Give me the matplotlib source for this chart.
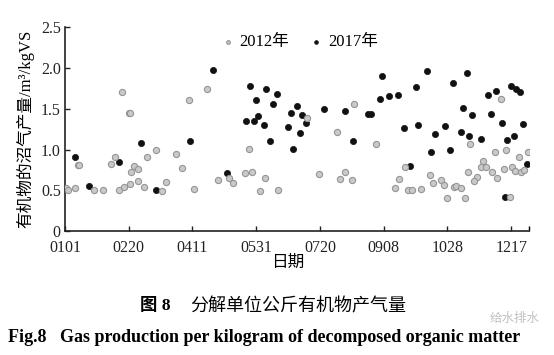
import matplotlib
matplotlib.use('Agg')
import matplotlib.pyplot as plt

plt.rcParams['font.family'] = ['Liberation Serif', 'Noto Sans CJK SC', 'DejaVu Sans']

# day of year (0 = 0101) and gas production
days_2012 = [1, 2, 8, 10, 11, 23, 30, 36, 39, 42, 46, 45, 50, 51, 51, 52, 54, 57, 57, 62, 64, 71, 76, 79, 87,
             92, 101, 97, 111, 120, 129, 132, 141, 147, 144, 153, 157, 167,
             190, 227, 213, 244, 199, 220, 216, 225, 267, 262, 259, 269,
             342, 318, 337, 346, 363, 356, 328, 326, 330, 335, 344, 351, 353, 358, 360, 316, 323, 321, 339,
             286, 295, 289, 297, 305, 307, 311, 272, 279, 300, 314, 349]
gas_2012 = [0.53, 0.51, 0.53, 0.81, 0.81, 0.51, 0.50, 0.82, 0.91, 0.51, 0.54, 1.70, 1.45, 1.44, 0.58, 0.73, 0.80, 0.76, 0.62, 0.54, 0.91, 0.99, 0.49, 0.60, 0.95,
            0.77, 0.52, 1.60, 1.74, 0.63, 0.65, 0.59, 0.71, 0.72, 1.01, 0.49, 0.65, 0.50,
            1.38, 1.56, 1.21, 1.07, 0.70, 0.73, 0.64, 0.63, 0.79, 0.64, 0.53, 0.51,
            1.62, 1.07, 0.97, 0.99, 0.97, 0.91, 0.86, 0.79, 0.79, 0.73, 0.76, 0.79, 0.74, 0.72, 0.75, 0.72, 0.66, 0.61, 0.65,
            0.69, 0.63, 0.59, 0.57, 0.54, 0.55, 0.53, 0.51, 0.52, 0.41, 0.41, 0.42]

days_2017 = [8, 19, 42, 60, 71,
             116, 98, 127, 145, 150, 158, 166, 163, 151, 142, 148, 156, 161, 177, 175, 179,
             182, 186, 189, 184, 203, 220, 238, 240, 226, 247, 254, 261, 249, 266, 271,
             284, 315, 275, 304, 277, 290, 298, 311, 317, 326, 312, 319, 332, 338, 350, 354, 357, 334, 343, 359,
             347, 352, 287, 302, 362, 345]
gas_2017 = [0.91, 0.55, 0.85, 1.08, 0.50,
            1.97, 1.10, 0.71, 1.77, 1.60, 1.74, 1.68, 1.56, 1.41, 1.35, 1.35, 1.30, 1.10, 1.44, 1.28, 1.01,
            1.53, 1.42, 1.32, 1.20, 1.50, 1.47, 1.43, 1.43, 1.10, 1.62, 1.65, 1.67, 1.90, 1.26, 0.80,
            1.96, 1.94, 1.76, 1.81, 1.30, 1.19, 1.29, 1.22, 1.17, 1.13, 1.51, 1.42, 1.67, 1.72, 1.78, 1.74, 1.70, 1.43, 1.32, 1.31,
            1.12, 1.17, 0.97, 1.00, 0.82, 0.42]

tick_days = [0, 50, 100, 150, 200, 250, 300, 350]
tick_labels = ['0101', '0220', '0411', '0531', '0720', '0908', '1028', '1217']
y_ticks = [0, 0.5, 1.0, 1.5, 2.0, 2.5]
y_labels = ['0', '0.5', '1.0', '1.5', '2.0', '2.5']

fig = plt.figure(figsize=(5.54, 3.55), dpi=100)
ax = fig.add_axes([0.1173, 0.348, 0.8377, 0.577])

ax.scatter(days_2017, gas_2017, s=20, color='#111111', edgecolors='#111111', linewidths=0.5, label='2017年', zorder=3)
ax.scatter(days_2012, gas_2012, s=20, color='#c9c9c9', edgecolors='#959595', linewidths=0.8, label='2012年', zorder=4)

ax.set_xlim(0, 364)
ax.set_ylim(0, 2.5)
ax.set_xticks(tick_days)
ax.set_xticklabels(tick_labels)
ax.set_xticks([364], minor=True)
ax.set_yticks(y_ticks)
ax.set_yticklabels(y_labels)
ax.tick_params(direction='in', length=3.5, width=1, labelsize=11.5, colors='#222222')
ax.tick_params(axis='x', pad=6.5)
ax.tick_params(axis='y', pad=3)
ax.tick_params(axis='x', which='minor', direction='in', length=3.5, width=1)
for side in ['top', 'right']:
    ax.spines[side].set_visible(False)
for side in ['left', 'bottom']:
    ax.spines[side].set_linewidth(1.2)
    ax.spines[side].set_color('#222222')

ax.set_ylabel('有机物的沼气产量/m³/kgVS', fontsize=12, labelpad=5)
fig.text(288 / 554, 1 - 262 / 355, '日期', fontsize=12, family='Noto Sans CJK SC',
         ha='center', va='center')

handles, labels = ax.get_legend_handles_labels()
ax.legend(handles[::-1], labels[::-1], ncol=2, frameon=False, fontsize=12,
          loc='center left', bbox_to_anchor=(0.319, 0.925), handlelength=0.8,
          handletextpad=0.3, columnspacing=1.2, markerscale=0.6, borderpad=0)

fig.text(140 / 554, 1 - 306 / 355, '图 8', fontsize=12.5, fontweight='bold', ha='left', va='center')
fig.text(190 / 554, 1 - 306 / 355, '分解单位公斤有机物产气量', fontsize=13,
         family='Noto Sans CJK SC', ha='left', va='center')
fig.text(8 / 554, 1 - 337 / 355, 'Fig.8   Gas production per kilogram of decomposed organic matter',
         fontsize=13, fontweight='bold', ha='left', va='center')
# watermark, kept just above the caption line
fig.text(490 / 554, 1 - 318 / 355, '给水排水', fontsize=9, family='Noto Sans CJK SC',
         color='#b0b0b0', alpha=0.8, ha='left', va='center')

fig.savefig('out.png', dpi=100)
